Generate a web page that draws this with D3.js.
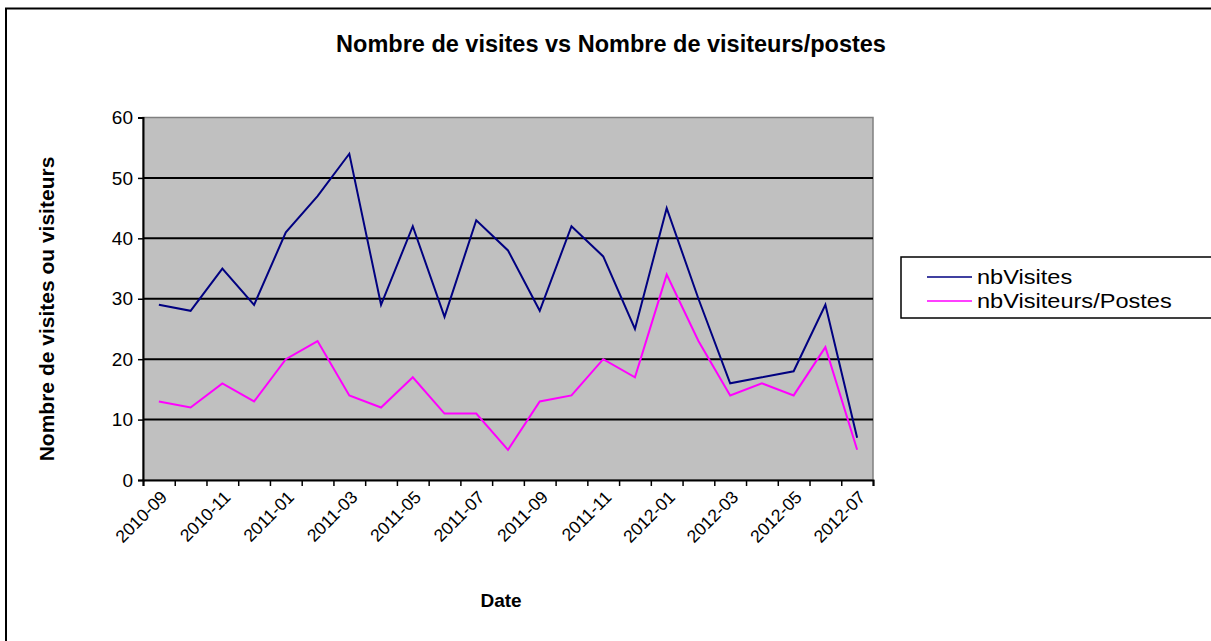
<!DOCTYPE html>
<html>
<head>
<meta charset="utf-8">
<script src="https://cdn.jsdelivr.net/npm/d3@7"></script>
<style>
  body { margin: 0; background: #fff; }
  text { font-family: Arial, "Liberation Sans", sans-serif; fill: #000; }
</style>
</head>
<body>
<div id="chart"></div>
<script>
const months = ["2010-09","2010-10","2010-11","2010-12","2011-01","2011-02","2011-03","2011-04",
  "2011-05","2011-06","2011-07","2011-08","2011-09","2011-10","2011-11","2011-12",
  "2012-01","2012-02","2012-03","2012-04","2012-05","2012-06","2012-07"];
const nbVisites = [29,28,35,29,41,47,54,29,42,27,43,38,28,42,37,25,45,30,16,17,18,29,7];
const nbVisiteurs = [13,12,16,13,20,23,14,12,17,11,11,5,13,14,20,17,34,23,14,16,14,22,5];
const yTicks = [0,10,20,30,40,50,60];

const W = 1211, H = 641;
const plot = { left: 143, right: 873, top: 117.5, bottom: 480 };

const svg = d3.select("#chart").append("svg")
  .attr("width", W)
  .attr("height", H);

// outer chart border (runs off the right and bottom edges)
svg.append("rect")
  .attr("x", 6).attr("y", 8.5)
  .attr("width", 1300).attr("height", 700)
  .attr("fill", "#fff")
  .attr("stroke", "#000")
  .attr("stroke-width", 2);

const x = d3.scaleLinear()
  .domain([0, months.length])
  .range([plot.left, plot.right]);

const y = d3.scaleLinear()
  .domain([0, 60])
  .range([plot.bottom, plot.top]);

// plot area
svg.append("rect")
  .attr("x", plot.left).attr("y", plot.top)
  .attr("width", plot.right - plot.left)
  .attr("height", plot.bottom - plot.top)
  .attr("fill", "#c0c0c0")
  .attr("stroke", "#808080")
  .attr("stroke-width", 1.5);

// gridlines
svg.append("g")
  .selectAll("line")
  .data(yTicks.filter(d => d > 0 && d < 60))
  .join("line")
    .attr("x1", plot.left).attr("x2", plot.right)
    .attr("y1", d => y(d)).attr("y2", d => y(d))
    .attr("stroke", "#000")
    .attr("stroke-width", 2);

// y axis
const yAxis = svg.append("g")
  .attr("transform", "translate(" + plot.left + ",0)")
  .call(d3.axisLeft(y).tickValues(yTicks).tickSize(5).tickPadding(5));
yAxis.select(".domain").attr("stroke", "#000").attr("stroke-width", 2);
yAxis.selectAll(".tick line").attr("stroke", "#000").attr("stroke-width", 1.5);
yAxis.selectAll(".tick text")
  .attr("font-size", 19)
  .attr("font-family", "Arial, 'Liberation Sans', sans-serif")
  .attr("fill", "#000");

// x axis: ticks on category boundaries, labels every other month
const xAxis = svg.append("g")
  .attr("transform", "translate(0," + plot.bottom + ")")
  .call(d3.axisBottom(x).tickValues(d3.range(months.length + 1)).tickSize(6).tickFormat(""));
xAxis.select(".domain").attr("stroke", "#000").attr("stroke-width", 2);
xAxis.selectAll(".tick line").attr("stroke", "#000").attr("stroke-width", 1.5);

svg.append("g")
  .selectAll("text")
  .data(months.map((m, i) => ({ m, i })).filter(d => d.i % 2 === 0))
  .join("text")
    .attr("transform", d => "translate(" + (x(d.i + 0.5) + 5) + "," + (plot.bottom + 14) + ") rotate(-45)")
    .attr("text-anchor", "end")
    .attr("dy", "0.35em")
    .attr("font-size", 17.5)
    .text(d => d.m);

// series lines
const line = d3.line()
  .x((d, i) => x(i + 0.5))
  .y(d => y(d));

svg.append("path")
  .datum(nbVisites)
  .attr("d", line)
  .attr("fill", "none")
  .attr("stroke", "#000080")
  .attr("stroke-width", 2);

svg.append("path")
  .datum(nbVisiteurs)
  .attr("d", line)
  .attr("fill", "none")
  .attr("stroke", "#ff00ff")
  .attr("stroke-width", 2);

// titles
svg.append("text")
  .attr("x", 611).attr("y", 52)
  .attr("text-anchor", "middle")
  .attr("font-size", 23.5)
  .attr("font-weight", "bold")
  .text("Nombre de visites vs Nombre de visiteurs/postes");

svg.append("text")
  .attr("x", 501).attr("y", 607)
  .attr("text-anchor", "middle")
  .attr("font-size", 19)
  .attr("font-weight", "bold")
  .text("Date");

svg.append("text")
  .attr("transform", "translate(54,309) rotate(-90)")
  .attr("text-anchor", "middle")
  .attr("font-size", 21)
  .attr("font-weight", "bold")
  .text("Nombre de visites ou visiteurs");

// legend
const series = [
  { name: "nbVisites", color: "#000080" },
  { name: "nbVisiteurs/Postes", color: "#ff00ff" }
];
const legend = svg.append("g").attr("transform", "translate(901,257)");
legend.append("rect")
  .attr("width", 400).attr("height", 61)
  .attr("fill", "#fff")
  .attr("stroke", "#000")
  .attr("stroke-width", 1.5);
const items = legend.selectAll("g")
  .data(series)
  .join("g")
    .attr("transform", (d, i) => "translate(0," + (20 + i * 24) + ")");
items.append("line")
  .attr("x1", 26).attr("x2", 71)
  .attr("stroke", d => d.color)
  .attr("stroke-width", 1.5);
items.append("text")
  .attr("transform", "translate(76,0) scale(1.15,1)")
  .attr("dy", "0.35em")
  .attr("font-size", 20.5)
  .text(d => d.name);
</script>
</body>
</html>
